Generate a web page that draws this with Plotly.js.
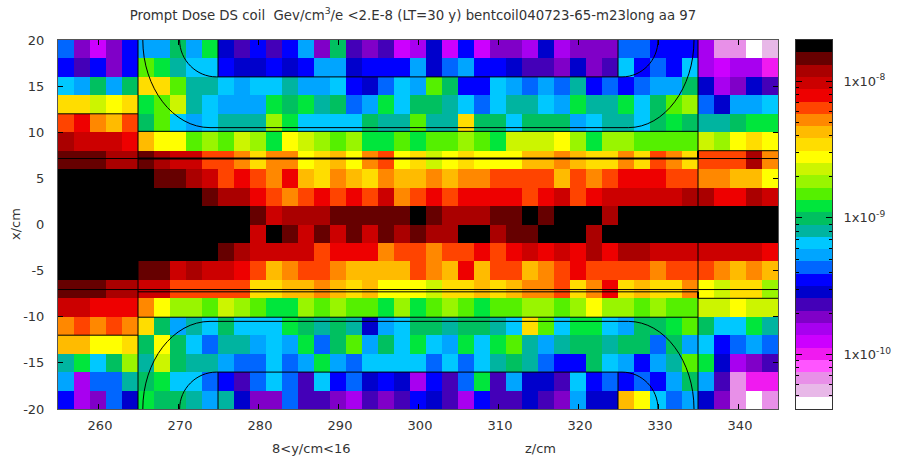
<!DOCTYPE html>
<html><head><meta charset="utf-8">
<script src="https://cdn.plot.ly/plotly-3.0.0.min.js"></script>
<style>html,body{margin:0;padding:0;background:#fff}</style></head>
<body><div id="chart" style="width:897px;height:457px"></div>
<script>
// Colour bands, white (lowest) to black (highest)
const bandColors = ['#ffffff','#e8b8e8','#e890e8','#ff55ff','#f01af0','#cc00ff','#a800f0','#8000c8','#4400b8','#0000cc','#0000ff','#0066ff','#00a5ff','#00c8ff','#00b4a0','#00c060','#00e63c','#55f000','#99f500','#ccf500','#ffff00','#ffdd00','#ffbb00','#ff8800','#ff4400','#ee0000','#cc0000','#aa0000','#660000','#000000'];
const doseMin = 4e-11, doseMax = 2e-8;
// Band read for every cell, z = 255..345 in 2 cm columns
const row_x19  = [11,7,5,7,10,12,12,15,12,16,9,8,10,8,10,12,7,15,8,7,8,5,6,9,5,10,5,7,7,6,9,6,7,7,7,11,11,10,10,10,6,2,2,0,1];
const row_x17  = [10,8,10,7,10,17,16,14,13,13,10,9,9,10,9,10,12,12,9,10,10,10,12,9,11,12,10,10,9,8,8,7,9,7,8,13,10,11,10,13,6,5,6,6,4];
const row_x15  = [13,12,15,12,15,21,21,17,14,14,13,12,13,13,14,12,12,13,10,9,11,13,12,17,15,10,10,13,12,11,12,11,14,10,11,10,11,12,12,15,9,6,7,9,8];
const row_x13  = [21,21,19,20,21,16,17,19,14,13,12,12,12,16,15,16,14,15,11,12,16,13,15,15,14,13,11,13,14,14,13,12,16,14,14,16,13,15,17,18,11,9,12,12,13];
const row_x11  = [24,25,23,22,24,15,17,13,12,13,14,14,14,18,16,13,13,13,13,15,14,14,17,14,14,21,15,15,13,15,15,15,12,13,14,14,13,15,16,15,14,14,15,16,16];
const row_x9   = [27,26,26,26,25,22,20,20,17,18,17,19,18,16,20,19,18,17,18,16,16,17,16,17,17,18,17,16,19,19,19,20,18,16,18,18,17,17,17,17,19,18,20,21,20];
const row_x7   = [28,28,28,27,27,28,27,26,26,24,24,23,21,23,23,20,21,22,20,23,24,20,21,19,20,21,20,20,20,22,22,23,22,21,21,23,21,24,23,21,24,24,24,27,23];
const row_x5   = [29,29,29,29,29,29,28,28,27,26,24,25,24,23,25,22,21,23,22,21,23,22,22,23,22,23,23,24,24,24,24,22,24,23,24,25,25,25,24,24,23,23,22,22,20];
const row_x3   = [29,29,29,29,29,29,29,29,29,28,27,27,25,24,23,24,25,24,25,24,26,23,24,25,24,25,25,25,25,24,25,26,24,25,26,26,26,26,26,27,27,25,25,27,26];
const row_x1   = [29,29,29,29,29,29,29,29,29,29,29,29,28,26,27,27,27,28,28,28,28,28,29,28,27,27,27,28,28,29,28,29,29,29,27,29,29,29,29,29,29,29,29,29,29];
const row_xm1  = [29,29,29,29,29,29,29,29,29,29,29,29,26,29,28,26,28,26,28,26,28,27,28,27,27,29,29,27,28,28,29,29,29,27,29,29,29,29,29,29,29,29,29,29,29];
const row_xm3  = [29,29,29,29,29,29,29,29,29,29,28,27,26,26,26,26,24,25,25,25,23,24,24,23,24,24,25,24,25,26,25,26,25,27,25,27,27,26,26,26,26,26,26,26,25];
const row_xm5  = [29,29,29,29,29,28,28,26,27,26,26,25,24,22,23,24,24,23,22,22,22,22,24,23,22,25,22,24,24,22,23,24,25,24,24,24,24,23,24,24,24,23,22,23,22];
const row_xm7  = [28,28,28,27,27,26,26,24,24,24,24,24,21,21,22,22,23,22,21,22,20,20,20,19,21,21,22,21,22,23,23,24,21,23,25,21,22,21,21,23,20,19,21,21,18];
const row_xm9  = [26,26,25,25,25,23,20,18,18,17,19,18,17,16,16,18,17,18,17,17,16,18,16,17,18,17,16,17,17,18,18,17,18,20,18,18,17,18,17,17,19,19,20,19,19];
const row_xm11 = [23,24,23,24,23,21,15,12,14,13,15,13,13,13,16,15,14,15,14,9,12,13,15,15,14,15,15,14,13,21,17,13,16,16,13,12,15,15,16,17,15,13,13,16,14];
const row_xm13 = [22,22,20,20,21,15,20,15,13,11,14,14,12,13,12,16,11,15,17,12,15,13,16,13,12,16,13,16,17,14,12,14,15,15,14,15,15,11,15,12,13,10,11,12,11];
const row_xm15 = [14,16,13,15,18,14,19,15,14,14,12,11,11,13,11,12,16,12,11,13,13,13,13,11,13,11,13,14,15,14,11,10,10,15,13,12,10,12,14,17,16,9,6,7,8];
const row_xm17 = [12,6,11,11,14,15,16,13,13,11,10,8,11,13,11,8,13,10,11,9,10,9,6,10,8,11,16,8,12,9,9,8,13,10,11,10,11,10,12,15,12,8,2,4,4];
const row_xm19 = [10,6,7,11,9,16,15,15,14,12,14,9,7,7,11,8,8,7,6,8,7,8,10,9,8,6,10,8,8,9,8,7,12,9,9,22,20,13,11,12,9,7,2,0,2];
const rowsBottomUp = [row_xm19,row_xm17,row_xm15,row_xm13,row_xm11,row_xm9,row_xm7,row_xm5,row_xm3,row_xm1,row_x1,row_x3,row_x5,row_x7,row_x9,row_x11,row_x13,row_x15,row_x17,row_x19];
const xTicks = [260,270,280,290,300,310,320,330,340];
const yTicks = [-20,-15,-10,-5,0,5,10,15,20];
const barLabels = ['1x10<sup>-10</sup>','1x10<sup>-9</sup>','1x10<sup>-8</sup>'];
const barDecades = [1e-10,1e-9,1e-8];
const barMinor = [5e-11,6e-11,7e-11,8e-11,9e-11,2e-10,3e-10,4e-10,5e-10,6e-10,7e-10,8e-10,9e-10,2e-9,3e-9,4e-9,5e-9,6e-9,7e-9,8e-9,9e-9,2e-8];
// Coil outline, in z/cm and x/cm
const thinPaths = [
 'M265,-20 L265,20','M335,-20 L335,20','M255,12 L265,12','M255,-12 L265,-12',
 'M265,10.1 L335,10.1','M265,-10.05 L335,-10.05','M255,7.15 L345,7.15','M255,-7.05 L345,-7.05','M265,-7.3 L335,-7.3',
 'M335,8 L345,8','M335,-8 L345,-8',
 'M265.6,20 C265.6,14.8 269.4,10.5 274,10.5 L326.3,10.5 C330.8,10.5 334.5,14.8 334.5,20',
 'M265.6,-20 C265.6,-14.8 269.4,-10.5 274,-10.5 L326.3,-10.5 C330.8,-10.5 334.5,-14.8 334.5,-20',
 'M270.2,20 C270.2,17.8 272.3,16 274.8,16 L325.5,16 C328,16 330,17.8 330,20',
 'M270.2,-20 C270.2,-17.8 272.3,-16 274.8,-16 L325.5,-16 C328,-16 330,-17.8 330,-20',
 'M275,20 L275,16','M325,20 L325,16','M275,-20 L275,-16','M325,-20 L325,-16'
];
const thickPaths = ['M265,7.15 L335,7.15','M335,7.15 L335,8','M335,-7.3 L335,-8'];
const lo = Math.log10(doseMin), hi = Math.log10(doseMax), step = (hi-lo)/bandColors.length;
const bandToLog = b => lo + (b+0.5)*step;
const colorscale = [];
bandColors.forEach((c,i)=>{colorscale.push([i/bandColors.length,c]);colorscale.push([(i+1)/bandColors.length,c]);});
const font = {family:'"DejaVu Sans",sans-serif',size:13,color:'#333'};
const W=897,H=457;
const traces = [
 {type:'heatmap',z:rowsBottomUp.map(r=>r.map(bandToLog)),x0:256,dx:2,y0:-19,dy:2,zmin:lo,zmax:hi,colorscale,showscale:false,zsmooth:false,hoverinfo:'skip'},
 {type:'heatmap',xaxis:'x2',yaxis:'y2',z:bandColors.map((c,i)=>[bandToLog(i)]),x0:0,dx:1,y0:bandToLog(0),dy:step,zmin:lo,zmax:hi,colorscale,showscale:false,zsmooth:false,hoverinfo:'skip'}
];
const line = w => ({color:'#000',width:w});
const layout = {
 width:W,height:H,margin:{l:0,r:0,t:0,b:0},paper_bgcolor:'#fff',plot_bgcolor:'#fff',showlegend:false,font,
 title:{text:'Prompt Dose DS coil  Gev/cm<sup>3</sup>/e <2.E-8 (LT=30 y) bentcoil040723-65-m23long aa 97',font:{...font,size:13.3},x:413/W,xanchor:'center',y:1-15/H,yanchor:'middle'},
 xaxis:{domain:[58/W,778/W],range:[255,345],tickvals:xTicks,ticktext:xTicks.map(String),ticks:'inside',ticklen:5,tickcolor:'#000',showline:true,linecolor:'#555',mirror:'allticks',showgrid:false,zeroline:false,tickfont:font,tickangle:0,ticklabelstandoff:4,ticklabelshift:2},
 yaxis:{domain:[1-409/H,1-40/H],range:[-20,20],tickvals:yTicks,ticktext:yTicks.map(String),ticks:'inside',ticklen:5,tickcolor:'#000',showline:true,linecolor:'#555',mirror:'allticks',showgrid:false,zeroline:false,tickfont:font,ticklabelstandoff:10},
 xaxis2:{domain:[796/W,832/W],range:[-0.5,0.5],anchor:'y2',showticklabels:false,ticks:'',showline:true,linecolor:'#333',mirror:true,showgrid:false,zeroline:false},
 yaxis2:{domain:[1-409/H,1-40/H],range:[lo,hi],anchor:'x2',side:'right',tickvals:barDecades.map(Math.log10),ticktext:barLabels,ticks:'inside',ticklen:6,tickcolor:'#000',ticklabelstandoff:8,showline:true,linecolor:'#333',mirror:'allticks',showgrid:false,zeroline:false,tickfont:font,
   minor:{tickvals:barMinor.map(Math.log10),ticks:'inside',ticklen:3,tickcolor:'#000',showgrid:false}},
 shapes:[...thinPaths.map(p=>({type:'path',path:p,xref:'x',yref:'y',line:line(1)})),...thickPaths.map(p=>({type:'path',path:p,xref:'x',yref:'y',line:line(2)}))],
 annotations:[
  {text:'x/cm',xref:'paper',yref:'paper',x:16/W,y:1-224/H,xanchor:'center',yanchor:'middle',showarrow:false,textangle:-90,font},
  {text:'8<y/cm<16',xref:'paper',yref:'paper',x:311/W,y:1-448/H,xanchor:'center',yanchor:'middle',showarrow:false,font},
  {text:'z/cm',xref:'paper',yref:'paper',x:540/W,y:1-448/H,xanchor:'center',yanchor:'middle',showarrow:false,font}
 ]
};
Plotly.newPlot('chart',traces,layout,{displayModeBar:false,staticPlot:true});
</script></body></html>
